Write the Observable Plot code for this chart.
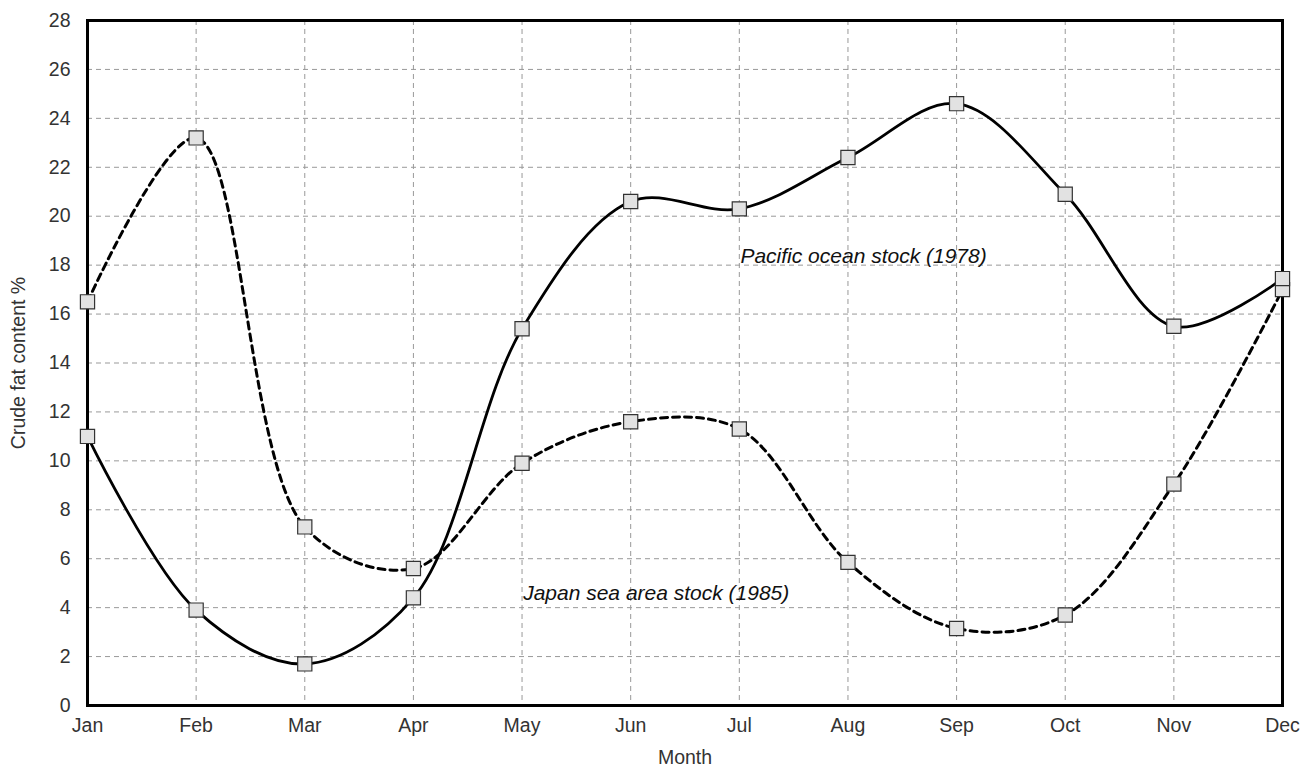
<!DOCTYPE html>
<html>
<head>
<meta charset="utf-8">
<script src="https://cdn.jsdelivr.net/npm/d3@7"></script>
<script src="https://cdn.jsdelivr.net/npm/@observablehq/plot@0.6"></script>
<style>
  html, body { margin: 0; padding: 0; background: #fff; }
</style>
</head>
<body>
<div id="chart"></div>
<script>
const months = ["Jan","Feb","Mar","Apr","May","Jun","Jul","Aug","Sep","Oct","Nov","Dec"];
const pacific = [11.0, 3.9, 1.7, 4.4, 15.4, 20.6, 20.3, 22.4, 24.6, 20.9, 15.5, 17.45];
const japan = [16.5, 23.2, 7.3, 5.6, 9.9, 11.6, 11.3, 5.85, 3.15, 3.7, 9.05, 17.0];
const yTicks = d3.range(0, 29, 2);
const seriesLabels = ["Pacific ocean stock (1978)", "Japan sea area stock (1985)"];

const pacData = months.map((m, i) => ({i, v: pacific[i]}));
const japData = months.map((m, i) => ({i, v: japan[i]}));

const gridStyle = {stroke: "#999", strokeOpacity: 1, strokeWidth: 1, strokeDasharray: "5,4"};

const chart = Plot.plot({
  width: 1301,
  height: 766,
  marginLeft: 87,
  marginRight: 19,
  marginTop: 20,
  marginBottom: 61,
  style: {fontFamily: "'Liberation Sans', Arial, Helvetica, sans-serif", fontSize: "20px", color: "#333", background: "#fff"},
  x: {domain: [0, 11]},
  y: {domain: [0, 28]},
  marks: [
    Plot.gridX(d3.range(1, 11), gridStyle),
    Plot.gridY(yTicks.slice(1, -1), gridStyle),
    Plot.axisX({ticks: d3.range(12), tickFormat: i => months[i], tickSize: 0, tickPadding: 13, fontSize: 19.5,
      label: "Month", labelAnchor: "center", labelArrow: "none", labelOffset: 58, fill: "#333"}),
    Plot.axisY({ticks: yTicks, tickSize: 0, tickPadding: 17, fontSize: 19.5,
      label: "Crude fat content %", labelAnchor: "center", labelArrow: "none", labelOffset: 76, fill: "#333"}),
    Plot.line(japData, {x: "i", y: "v", curve: "catmull-rom", stroke: "#000", strokeWidth: 3, strokeDasharray: "7,5"}),
    Plot.line(pacData, {x: "i", y: "v", curve: "catmull-rom", stroke: "#000", strokeWidth: 2.8}),
    Plot.frame({stroke: "#000", strokeWidth: 3}),
    Plot.dot(japData, {x: "i", y: "v", symbol: "square", r: 8, fill: "#e2e2e2", stroke: "#333", strokeWidth: 1.2}),
    Plot.dot(pacData, {x: "i", y: "v", symbol: "square", r: 8, fill: "#e2e2e2", stroke: "#333", strokeWidth: 1.2}),
    Plot.text([seriesLabels[0]], {x: 6.01, y: 18.36, text: d => d, textAnchor: "start", fontStyle: "italic", fontSize: 21, fill: "#111"}),
    Plot.text([seriesLabels[1]], {x: 4.01, y: 4.6, text: d => d, textAnchor: "start", fontStyle: "italic", fontSize: 21, fill: "#111"})
  ]
});
document.getElementById("chart").appendChild(chart);
</script>
</body>
</html>
